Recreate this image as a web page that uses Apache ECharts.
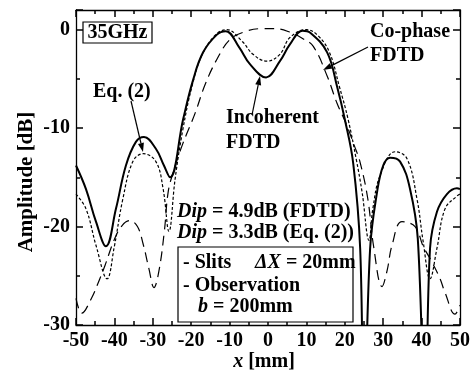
<!DOCTYPE html>
<html>
<head>
<meta charset="utf-8">
<script src="https://cdn.jsdelivr.net/npm/echarts@6/dist/echarts.min.js"></script>
<style>html,body{margin:0;padding:0;background:#fff}#c{width:475px;height:378px}</style>
</head>
<body>
<div id="c"></div>
<script>
// ---- data ----
var incoherentX = [-50,-47.4,-44.8,-42.2,-39.6,-37,-34.4,-32.3,-29.2,-27.1,-25.5,-22.1,-19.5,-16.9,-13.3,-11,-7.5,-4.7,-0.5,3.1,5.7,9,11,15.4,18,20,22.2,24,25,26.6,28.4,30,31.8,34.4,37,39,40.9,42.2,44,46.6,49.2,50];
var incoherentY = [-13.8,-16.2,-19.5,-22.0,-18.2,-13.8,-11.4,-10.9,-12.1,-13.8,-15.0,-9.1,-5.1,-2.3,-0.5,-0.15,-1.8,-3.5,-4.85,-3.2,-1.5,-0.1,-0.3,-2.3,-5.8,-9.1,-13.6,-22.2,-40,-22.2,-16.5,-13.8,-13.0,-13.4,-16.2,-21.2,-40,-22.2,-18.5,-16.7,-16.1,-16.2];

var eq2X = [-50,-47.4,-44.8,-41.9,-40.1,-37.8,-35.2,-32.5,-29.2,-27.3,-25.8,-24.2,-22.2,-19.7,-17.2,-13.6,-10.7,-6.7,-3.9,-0.3,3.1,5.7,10,13,16,18.6,20.8,23,24.5,26.3,27.3,29.2,33.1,36.2,38.8,40.4,42.2,44,46.1,49.2,50];
var eq2Y = [-16.7,-18.2,-21.9,-25.3,-22.2,-17.2,-13.4,-12.6,-13.4,-16.2,-20.5,-15.2,-10.2,-5.6,-2.6,-0.5,0,-1.2,-2.5,-3.2,-2.5,-0.8,0,-0.6,-2.3,-5.8,-9.0,-13.2,-16.5,-21.4,-18.2,-14.8,-12.4,-13.1,-17.2,-21.5,-25.3,-22.2,-18.2,-16.9,-16.7];

var cophaseX = [-50,-48.5,-46,-44,-42.4,-40,-38,-36,-34,-32.5,-31,-29.7,-28.4,-27,-26,-24.7,-22.4,-19,-16.4,-13.3,-9.9,-6,-2,2,6,9,11.8,15.4,18,20.3,22.5,24,26,27.5,29.7,31,32.3,34.9,38.3,40.4,42.7,44.8,46.1,48.7,50];
var cophaseY = [-27.3,-28.8,-27.3,-25.5,-23.9,-21.3,-19.9,-19.4,-20.0,-21.8,-24.3,-26.2,-24.5,-20.5,-16.5,-14.5,-11.8,-8.5,-5.6,-3.0,-1.0,-0.2,0.1,0.1,-0.3,-0.9,-1.7,-4.7,-7.5,-9.5,-11.8,-13.5,-17.2,-22,-26.1,-24.5,-21.9,-19.5,-20,-22,-23.6,-25.3,-26.7,-28.9,-28];

var xRange = [-50, 50], xStep = 10;
var yRange = [-30, 2], yStep = 10;

function pairs(xs, ys){ return xs.map(function(x,i){ return [x, ys[i]]; }); }

var FONT = "'Liberation Serif','Times New Roman',serif";
var chart = echarts.init(document.getElementById('c'), null, {renderer:'canvas'});

function makeAxis(pos, rng, step, label, hideAbove){
  return {
    type:'value', position:pos, min:rng[0], max:rng[1], interval:step,
    axisLine:{show:true, onZero:false, lineStyle:{color:'#000', width:1.3}},
    axisTick:{show:true, inside:true, length:7, lineStyle:{color:'#000', width:1.5}},
    minorTick:{show:true, splitNumber:2, length:4, lineStyle:{color:'#000', width:1.5}},
    splitLine:{show:false}, minorSplitLine:{show:false},
    axisLabel: label ? {show:true, color:'#000', fontFamily:FONT, fontWeight:'bold', fontSize:20, margin:6,
      formatter:function(v){ return (hideAbove !== undefined && v > hideAbove) ? '' : String(v); }} : {show:false}
  };
}

function arrow(x1,y1,x2,y2){
  var dx=x2-x1, dy=y2-y1, L=Math.sqrt(dx*dx+dy*dy), ux=dx/L, uy=dy/L;
  var hl=9, hw=3;
  var bx=x2-ux*hl, by=y2-uy*hl;
  return [
    {type:'line', shape:{x1:x1,y1:y1,x2:bx,y2:by}, style:{stroke:'#000', lineWidth:1.2}, z:20},
    {type:'polygon', shape:{points:[[x2,y2],[bx-uy*hw,by+ux*hw],[bx+uy*hw,by-ux*hw]]}, style:{fill:'#000'}, z:20}
  ];
}

function txt(x,y,text){
  return {type:'text', x:x, y:y, z:30,
    style:{text:text, fill:'#000', font:'bold 20px '+FONT, textAlign:'left', textVerticalAlign:'middle'}};
}
function richTxt(x,y,text){
  return {type:'text', x:x, y:y, z:30, style:{text:text, fill:'#000', font:'bold 20px '+FONT,
    textAlign:'left', textVerticalAlign:'middle',
    rich:{i:{font:'italic bold 20px '+FONT, fill:'#000'}, n:{font:'bold 20px '+FONT, fill:'#000'}}}};
}

var graphics = [
  {type:'rect', shape:{x:83, y:22, width:69, height:21}, style:{fill:'#fff', stroke:'#000', lineWidth:1.2}, z:25},
  {type:'text', x:117.5, y:33, z:30, style:{text:'35GHz', fill:'#000', font:'bold 20px '+FONT, textAlign:'center', textVerticalAlign:'middle'}},
  txt(93, 92, 'Eq. (2)'),
  txt(226, 118, 'Incoherent'),
  txt(226, 143, 'FDTD'),
  txt(370, 32, 'Co-phase'),
  txt(370, 56, 'FDTD'),
  richTxt(177, 211.5, '{i|Dip}{n| = 4.9dB (FDTD)}'),
  richTxt(177, 232.5, '{i|Dip}{n| = 3.3dB (Eq. (2))}'),
  {type:'rect', shape:{x:178, y:247, width:175, height:75}, style:{fill:'#fff', stroke:'#000', lineWidth:1.2}, z:25},
  txt(183, 263, '- Slits'),
  richTxt(255, 263, '{i|\u0394X}{n| = 20mm}'),
  txt(183, 286, '- Observation'),
  richTxt(198, 307, '{i|b}{n| = 200mm}'),
  {type:'text', x:27, y:182, rotation:Math.PI/2, z:30, style:{text:'Amplitude [dB]', fill:'#000', font:'bold 21px '+FONT, textAlign:'center', textVerticalAlign:'middle'}},
  {type:'text', x:264, y:362, z:30, style:{text:'{i|x}{n| [mm]}', fill:'#000', font:'bold 20px '+FONT, textAlign:'center', textVerticalAlign:'middle',
    rich:{i:{font:'italic bold 20px '+FONT, fill:'#000'}, n:{font:'bold 20px '+FONT, fill:'#000'}}}}
];
graphics = graphics.concat(arrow(131,101,143,152), arrow(252,115,260,76), arrow(368,47,323,70));

chart.setOption({
  animation:false,
  backgroundColor:'#fff',
  grid:{left:76, right:15, top:10, bottom:53},
  xAxis:[makeAxis('bottom', xRange, xStep, true), makeAxis('top', xRange, xStep, false)],
  yAxis:[makeAxis('left', yRange, yStep, true, 0), makeAxis('right', yRange, yStep, false)],
  series:[
    {type:'line', name:'Co-phase FDTD', xAxisIndex:0, yAxisIndex:0, data:pairs(cophaseX, cophaseY), showSymbol:false, smooth:0.4, clip:true,
      lineStyle:{color:'#000', width:1.2, type:[10,6]}},
    {type:'line', name:'Eq. (2)', xAxisIndex:0, yAxisIndex:0, data:pairs(eq2X, eq2Y), showSymbol:false, smooth:0.4, clip:true,
      lineStyle:{color:'#000', width:1.2, type:[3,2]}},
    {type:'line', name:'Incoherent FDTD', xAxisIndex:0, yAxisIndex:0, data:pairs(incoherentX, incoherentY), showSymbol:false, smooth:0.4, clip:true,
      lineStyle:{color:'#000', width:2}}
  ],
  graphic:graphics
});
</script>
</body>
</html>
